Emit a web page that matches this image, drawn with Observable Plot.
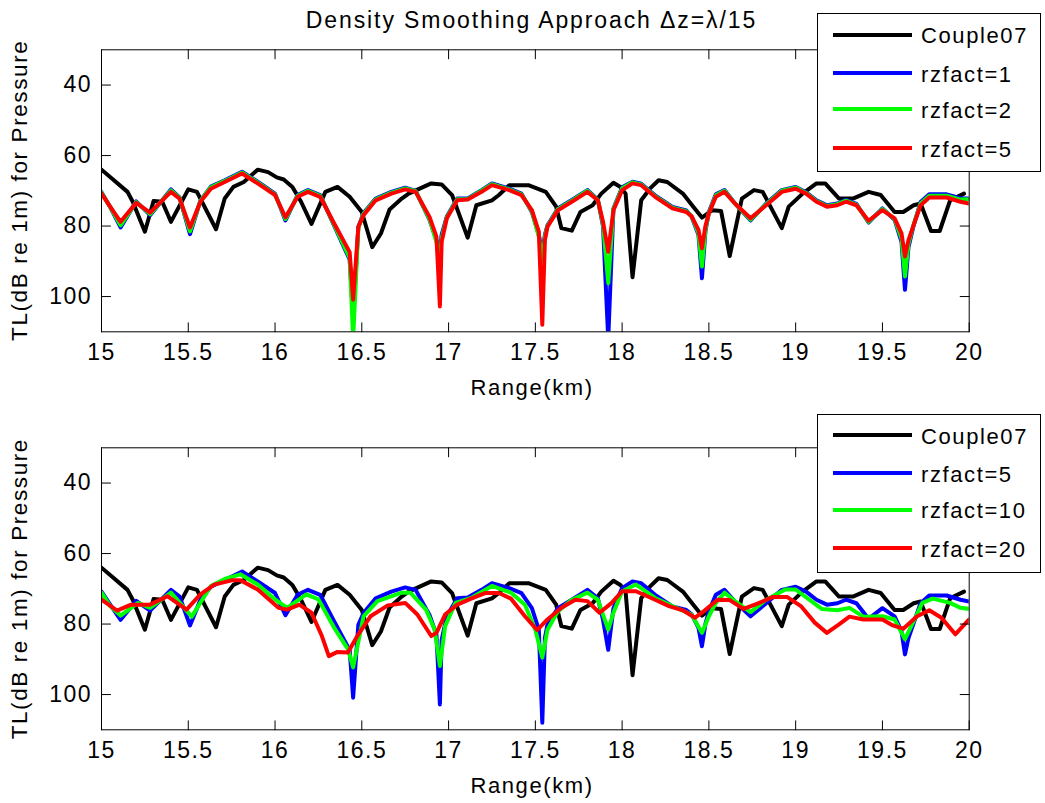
<!DOCTYPE html>
<html><head><meta charset="utf-8">
<script src="https://cdn.jsdelivr.net/npm/d3@7"></script>
<script src="https://cdn.jsdelivr.net/npm/@observablehq/plot@0.6"></script>
<style>
html,body{margin:0;padding:0;background:#fff;}
#wrap{position:relative;width:1045px;height:803px;overflow:hidden;font-family:"Liberation Sans",Arial,sans-serif;}
.panel{position:absolute;left:0;}
.legend{position:absolute;left:817px;width:224px;height:159px;box-sizing:border-box;border:1px solid #000;background:#fff;}
.sw{position:absolute;left:15px;width:79px;height:4px;}
.lt{position:absolute;left:103px;font-size:22px;line-height:22px;letter-spacing:1.6px;white-space:nowrap;color:#000;}
#over{position:absolute;left:0;top:0;pointer-events:none;}
#over text{font-family:"Liberation Sans",Arial,sans-serif;font-size:22px;letter-spacing:1.6px;fill:#000;}
#over text.title{font-size:23px;letter-spacing:1.9px;}
#over text.ylab{font-size:22.5px;letter-spacing:1.6px;}
</style></head>
<body><div id="wrap"></div>
<script>
// ---------- data ----------
const xTicks = [15, 15.5, 16, 16.5, 17, 17.5, 18, 18.5, 19, 19.5, 20];
const yTicks = [40, 60, 80, 100];

const rangeCouple = [15.00,15.15,15.18,15.25,15.30,15.35,15.40,15.50,15.55,15.66,15.71,15.76,15.82,15.90,15.96,16.01,16.05,16.10,16.15,16.21,16.29,16.36,16.43,16.50,16.56,16.61,16.66,16.73,16.77,16.90,16.96,17.02,17.11,17.16,17.25,17.29,17.35,17.46,17.56,17.62,17.65,17.71,17.76,17.83,17.88,17.95,17.99,18.02,18.06,18.11,18.16,18.21,18.26,18.35,18.41,18.46,18.52,18.57,18.62,18.69,18.76,18.81,18.92,18.96,19.04,19.12,19.17,19.25,19.33,19.42,19.49,19.57,19.62,19.68,19.72,19.78,19.83,19.89,19.97];
const tlCouple = [64.0,70.3,73.1,81.6,72.9,73.1,78.8,69.6,70.3,80.9,72.2,68.9,67.5,64.0,64.7,66.2,66.8,68.9,73.1,79.4,70.3,68.9,71.7,76.0,86.0,82.1,75.3,72.2,70.8,67.9,68.2,71.2,83.3,74.1,72.7,71.2,68.4,68.4,70.3,74.5,80.6,81.3,76.0,74.1,70.8,67.7,68.9,70.8,94.5,72.7,69.4,67.0,67.5,70.8,74.5,77.6,75.5,75.7,88.5,72.2,69.8,70.3,80.6,74.5,70.8,67.9,67.9,72.2,72.2,70.3,71.2,76.0,76.0,74.1,73.6,81.4,81.4,72.7,70.8];

// rzfact = 1, 2, 5 share one range grid
const rangeRz = [15.00,15.05,15.11,15.20,15.28,15.40,15.45,15.51,15.57,15.63,15.71,15.81,15.90,16.00,16.06,16.13,16.19,16.26,16.34,16.43,16.45,16.48,16.51,16.58,16.67,16.75,16.81,16.89,16.93,16.95,16.96,16.99,17.05,17.11,17.19,17.25,17.35,17.42,17.48,17.52,17.54,17.555,17.57,17.63,17.71,17.80,17.86,17.89,17.92,17.95,18.00,18.06,18.11,18.19,18.29,18.37,18.40,18.44,18.46,18.48,18.50,18.54,18.59,18.65,18.74,18.83,18.92,19.00,19.06,19.12,19.18,19.24,19.29,19.35,19.42,19.50,19.57,19.61,19.63,19.65,19.68,19.72,19.77,19.87,19.95,20.00];
const tlRz5 = [70.8,74.5,78.8,73.4,76.2,70.3,72.2,80.4,73.1,69.4,67.5,65.1,67.9,71.2,77.5,71.7,70.3,71.7,79.2,87.4,100.9,80.2,76.9,72.7,70.8,69.6,70.3,77.4,83.0,102.8,84.5,77.8,72.7,72.5,70.3,68.4,69.8,71.2,75.5,81.6,108.0,84.0,80.2,75.5,73.1,70.3,72.7,78.8,87.3,75.5,69.8,67.9,68.4,71.7,75.0,76.0,77.2,81.1,86.3,80.0,76.4,71.7,70.3,73.6,77.8,74.1,70.3,69.4,70.8,73.1,74.5,74.1,73.1,74.1,78.5,75.5,77.8,82.1,88.6,84.0,79.7,74.1,71.9,71.9,73.1,73.6];
const tlRz2 = [70.6,74.6,79.8,73.2,76.6,69.9,72.0,81.5,72.9,69.0,67.2,64.8,67.6,71.0,78.0,71.4,70.0,71.4,79.6,89.0,112.0,80.5,76.5,72.4,70.5,69.3,70.1,78.0,84.5,89.8,83.5,77.5,72.4,72.3,70.0,68.1,69.6,71.0,75.8,83.0,90.0,83.0,80.0,75.2,72.8,70.0,72.6,79.5,96.2,75.2,69.3,67.6,68.2,71.5,74.8,75.8,77.2,82.0,91.5,81.0,76.2,71.3,70.0,73.6,78.2,73.8,70.0,69.1,70.6,72.9,74.3,73.8,72.8,73.9,78.8,75.2,78.0,83.5,94.3,85.0,79.5,73.6,71.4,71.4,72.5,72.4];
const tlRz1 = [70.4,74.6,80.4,73.0,76.9,69.6,71.9,82.3,72.8,68.8,67.0,64.6,67.4,70.8,78.4,71.2,69.8,71.2,79.8,89.5,106.0,80.3,76.3,72.2,70.3,69.1,70.0,78.2,84.0,86.5,82.5,77.3,72.2,72.2,69.8,67.9,69.4,70.8,76.0,82.5,87.5,82.5,79.8,75.0,72.6,69.8,72.5,80.0,112.0,75.0,69.0,67.4,68.0,71.3,74.6,75.6,77.3,82.5,94.8,81.5,76.0,71.0,69.8,73.6,78.4,73.6,69.8,68.9,70.4,72.7,74.1,73.6,72.6,73.7,79.0,75.0,78.2,84.5,98.1,86.0,79.8,73.2,71.0,71.0,72.1,72.2];

const rangeRz10 = [15.00,15.05,15.11,15.21,15.28,15.40,15.52,15.63,15.71,15.80,15.90,16.00,16.07,16.18,16.25,16.34,16.42,16.45,16.51,16.59,16.73,16.78,16.87,16.92,16.95,16.98,17.04,17.13,17.25,17.36,17.44,17.50,17.54,17.57,17.63,17.71,17.80,17.86,17.92,17.95,18.00,18.08,18.19,18.29,18.40,18.46,18.50,18.54,18.59,18.65,18.74,18.83,18.94,19.00,19.09,19.15,19.24,19.31,19.39,19.50,19.57,19.63,19.68,19.73,19.79,19.89,19.95,20.00];
const tlRz10 = [71.1,74.9,77.6,74.0,75.4,71.1,77.9,69.2,67.2,65.9,68.8,73.0,75.4,71.6,73.0,81.0,87.1,92.3,77.8,73.5,71.1,71.1,75.9,81.6,91.9,80.6,74.0,72.6,69.2,71.1,74.5,81.6,89.5,81.6,76.4,73.1,71.1,73.1,81.6,76.8,70.7,68.8,72.6,74.9,77.3,82.5,77.8,74.0,71.1,73.5,76.6,73.1,70.2,70.2,73.5,75.7,76.1,75.4,77.9,77.8,78.7,84.3,79.2,74.0,72.8,74.0,75.4,75.7];

const rangeRz20 = [15.00,15.09,15.17,15.28,15.38,15.49,15.57,15.65,15.75,15.80,15.90,16.02,16.07,16.14,16.21,16.27,16.31,16.36,16.42,16.48,16.55,16.65,16.75,16.82,16.90,16.93,16.98,17.05,17.13,17.21,17.29,17.36,17.44,17.51,17.57,17.65,17.73,17.80,17.87,17.94,18.00,18.08,18.19,18.27,18.35,18.42,18.47,18.55,18.62,18.70,18.78,18.87,18.95,19.03,19.11,19.18,19.25,19.31,19.39,19.50,19.56,19.62,19.70,19.77,19.84,19.92,20.00];
const tlRz20 = [73.1,76.2,74.5,74.5,72.1,75.9,71.6,68.8,67.6,67.6,70.2,75.4,75.9,74.5,76.8,83.4,89.1,87.9,88.1,82.9,77.8,74.7,74.0,77.3,83.4,82.5,77.3,74.5,72.8,71.2,71.2,72.8,77.8,81.7,78.7,75.4,73.1,73.5,76.8,74.0,70.7,70.7,73.1,74.9,76.1,78.2,76.4,73.1,73.2,75.7,74.2,72.3,72.3,74.9,79.6,82.5,80.1,77.9,78.7,78.7,80.4,81.3,77.8,76.1,78.2,82.9,78.7];

const topSeries = [
  {name: "Couple07", color: "#000000", range: rangeCouple, tl: tlCouple},
  {name: "rzfact=1", color: "#0000ff", range: rangeRz, tl: tlRz1},
  {name: "rzfact=2", color: "#00ff00", range: rangeRz, tl: tlRz2},
  {name: "rzfact=5", color: "#ff0000", range: rangeRz, tl: tlRz5}
];
const bottomSeries = [
  {name: "Couple07", color: "#000000", range: rangeCouple, tl: tlCouple},
  {name: "rzfact=5", color: "#0000ff", range: rangeRz, tl: tlRz5},
  {name: "rzfact=10", color: "#00ff00", range: rangeRz10, tl: tlRz10},
  {name: "rzfact=20", color: "#ff0000", range: rangeRz20, tl: tlRz20}
];

const titleText = "Density Smoothing Approach \u0394z=\u03bb/15";
const xLabel = "Range(km)";
const yLabel = "TL(dB re 1m) for Pressure";

// ---------- drawing ----------
const W = 1045, H = 400;
const tickShape = {draw(ctx, l) { ctx.moveTo(0, 0); ctx.lineTo(0, -l); }};
function tickMarks() {
  const o = {length: 9, anchor: "start", shape: tickShape, stroke: "#000", strokeWidth: 1};
  return [
    Plot.vector(xTicks, {...o, x: d => d, frameAnchor: "bottom", rotate: 0}),
    Plot.vector(xTicks, {...o, x: d => d, frameAnchor: "top", rotate: 180}),
    Plot.vector(yTicks, {...o, y: d => d, frameAnchor: "left", rotate: 90}),
    Plot.vector(yTicks, {...o, y: d => d, frameAnchor: "right", rotate: -90})
  ];
}
function panel(series) {
  return Plot.plot({
    width: W, height: H,
    marginLeft: 101, marginRight: 76.3, marginTop: 49.3, marginBottom: 68.7,
    style: {fontFamily: "Liberation Sans, Arial, sans-serif", fontSize: "23px", letterSpacing: "1.5px", background: "transparent", color: "#000"},
    x: {domain: [15, 20]},
    y: {domain: [30, 110], reverse: true},
    marks: [
      ...series.map(s => Plot.line(s.range.map((r, i) => ({x: r, y: s.tl[i]})),
        {x: "x", y: "y", stroke: s.color, strokeWidth: 4, strokeLinejoin: "round", clip: true})),
      Plot.frame({stroke: "#000", strokeWidth: 1}),
      ...tickMarks(),
      Plot.axisX({ticks: xTicks, tickSize: 0, tickPadding: 11.5, tickFormat: d => String(d), label: null}),
      Plot.axisY({ticks: yTicks, tickSize: 0, tickPadding: 9.5, tickFormat: d => String(d), label: null})
    ]
  });
}

const wrap = document.getElementById("wrap");
function place(svg, top) {
  svg.classList.add("panel");
  svg.style.top = top + "px";
  svg.style.position = "absolute";
  wrap.appendChild(svg);
}
place(panel(topSeries), 0);
place(panel(bottomSeries), 398.4);

// text overlay
const ns = "http://www.w3.org/2000/svg";
const over = document.createElementNS(ns, "svg");
over.setAttribute("id", "over");
over.setAttribute("width", W); over.setAttribute("height", 803);
function txt(s, attrs, cls) {
  const t = document.createElementNS(ns, "text");
  for (const k in attrs) t.setAttribute(k, attrs[k]);
  if (cls) t.setAttribute("class", cls);
  t.textContent = s;
  over.appendChild(t);
}
txt(titleText, {x: 531.5, y: 28, "text-anchor": "middle"}, "title");
[0, 398.4].forEach(off => {
  txt(xLabel, {x: 532, y: 394.8 + off, "text-anchor": "middle"});
  txt(yLabel, {transform: `translate(27,${190.3 + off}) rotate(-90)`, "text-anchor": "middle"}, "ylab");
});
wrap.appendChild(over);

// legends
const rowY = [20.3, 58.7, 95.0, 133.7];
function legend(series, top) {
  const box = document.createElement("div");
  box.className = "legend";
  box.style.top = top + "px";
  series.forEach((s, i) => {
    const sw = document.createElement("div");
    sw.className = "sw"; sw.style.top = (rowY[i] - 2) + "px"; sw.style.background = s.color;
    const lt = document.createElement("div");
    lt.className = "lt"; lt.style.top = (rowY[i] - 9.2) + "px"; lt.textContent = s.name;
    box.appendChild(sw); box.appendChild(lt);
  });
  wrap.appendChild(box);
}
legend(topSeries, 13.3);
legend(bottomSeries, 413.7);
</script>
</body></html>
